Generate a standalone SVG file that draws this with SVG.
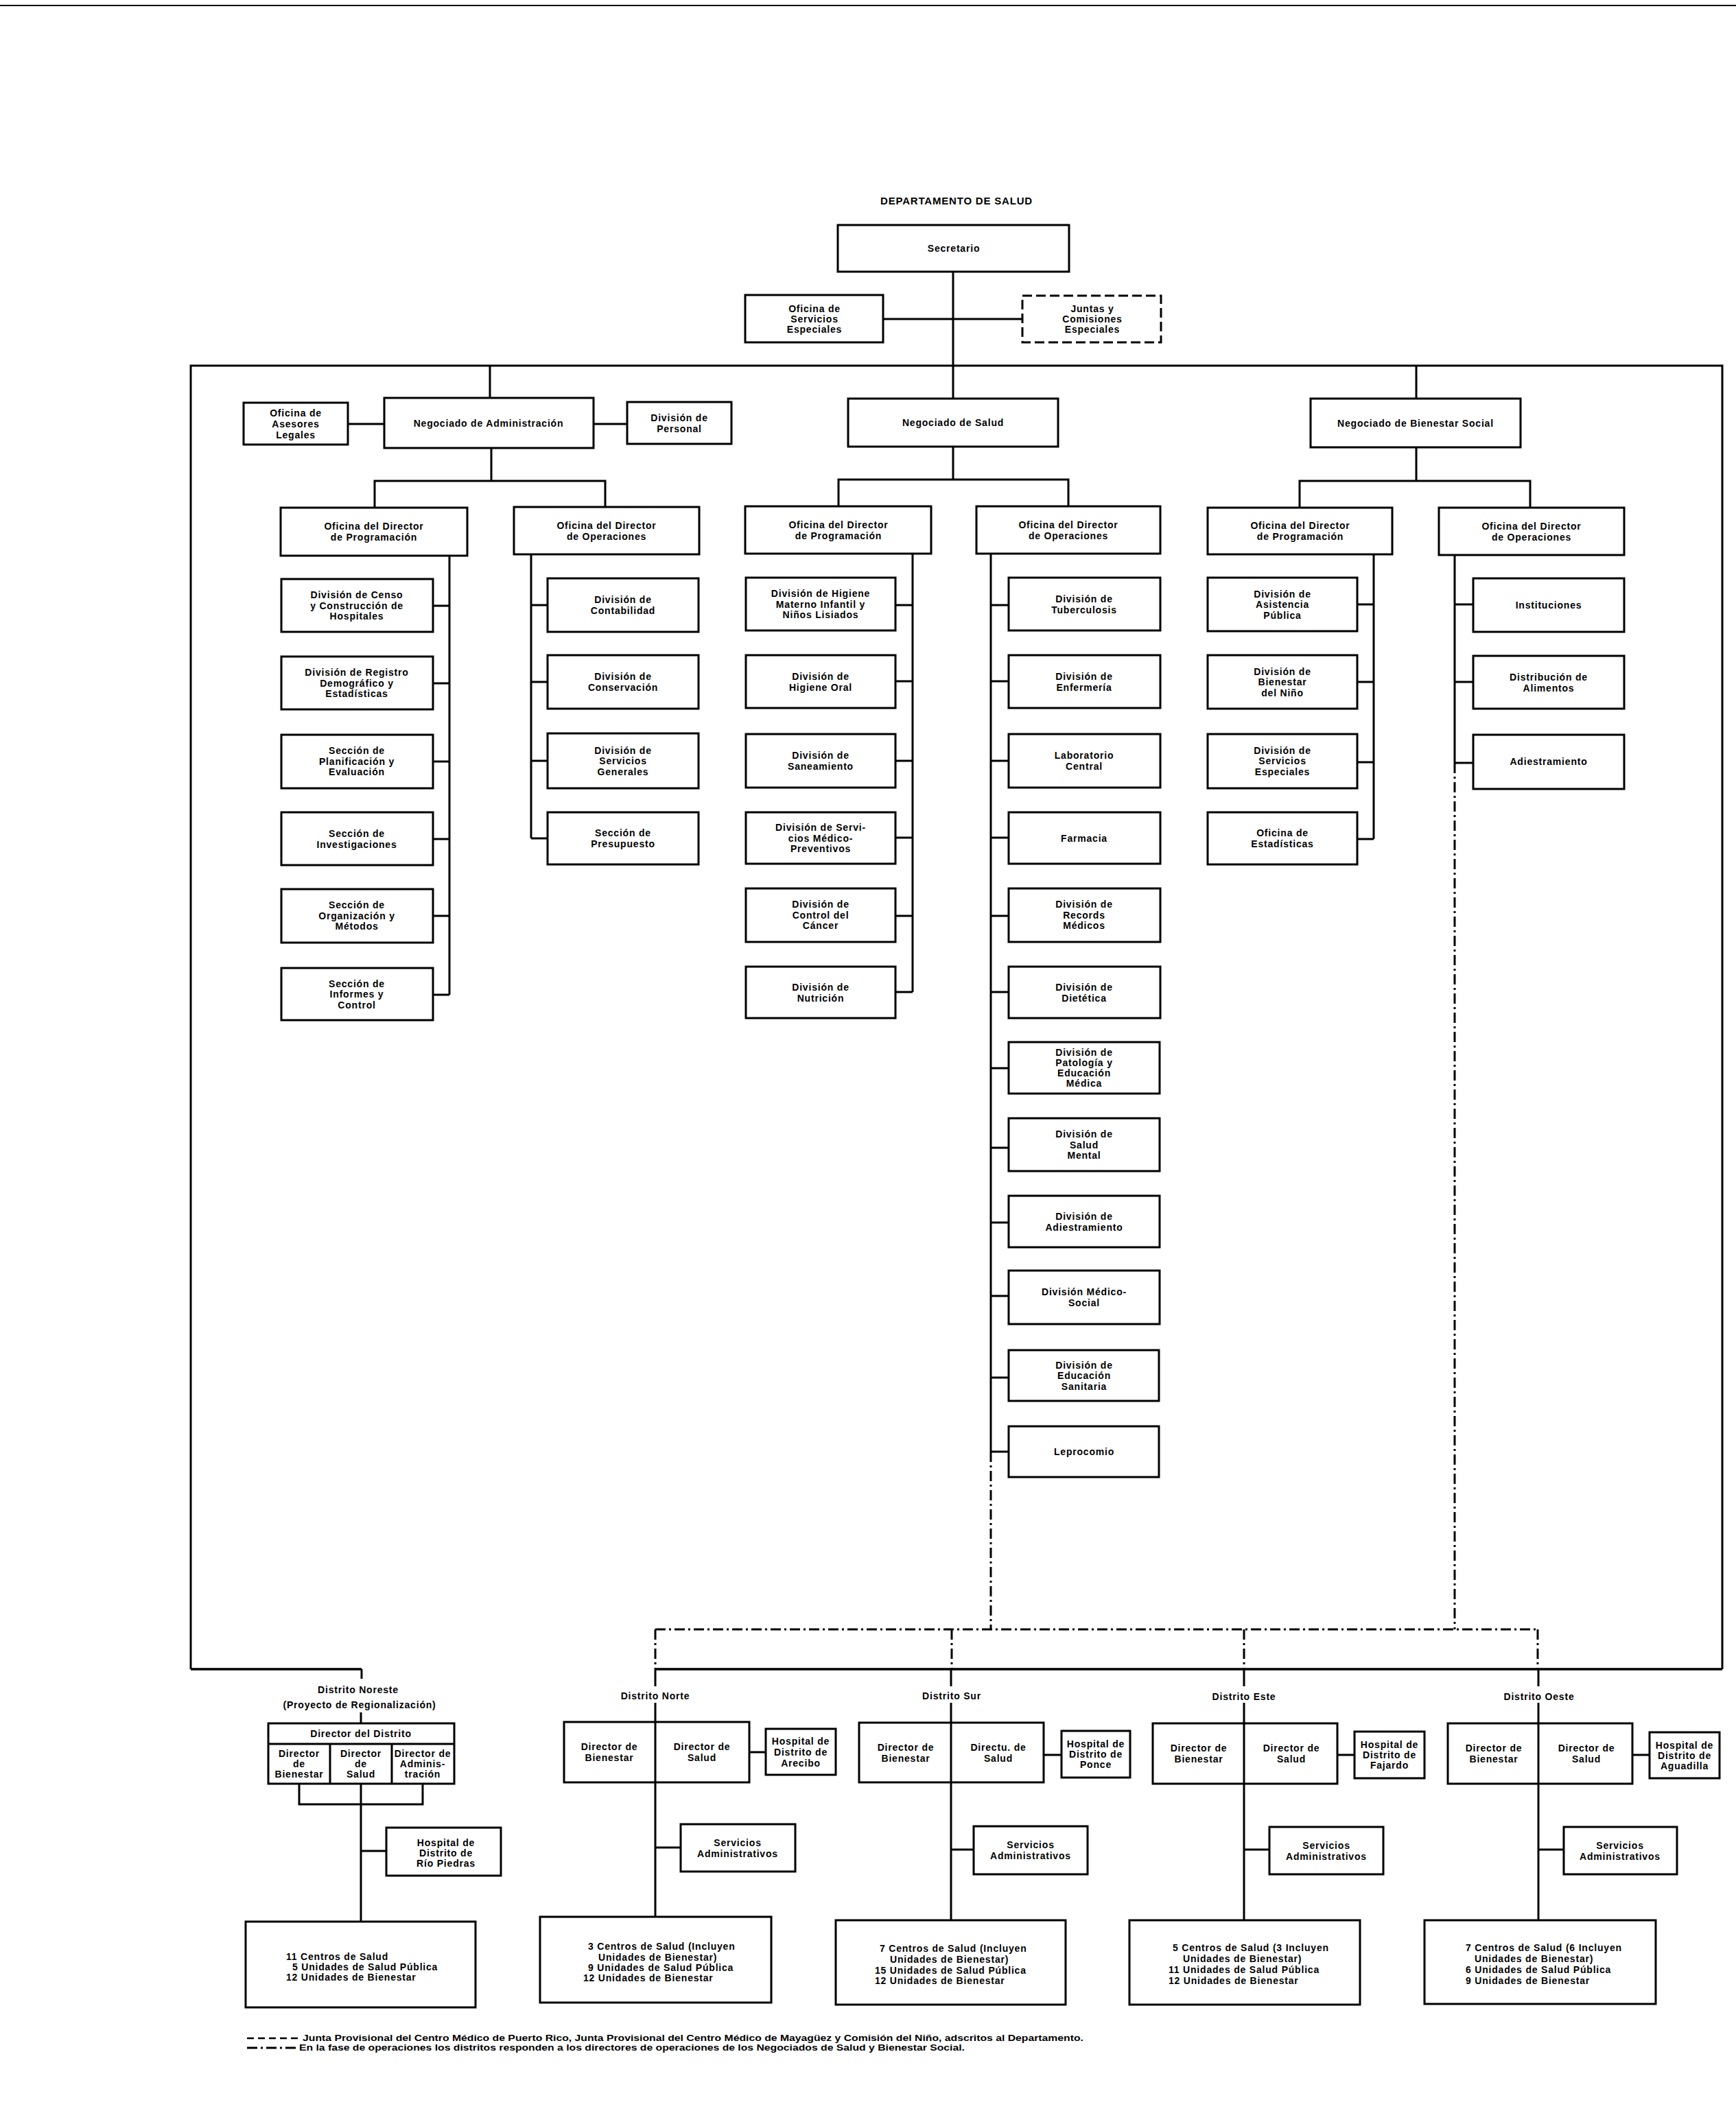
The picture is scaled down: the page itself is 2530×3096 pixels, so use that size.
<svg xmlns="http://www.w3.org/2000/svg" width="2530" height="3096" viewBox="0 0 2530 3096">
<style>
.b{fill:#fff;stroke:#000;stroke-width:3}
.bd{fill:#fff;stroke:#000;stroke-width:3;stroke-dasharray:14 6}
.c{fill:none;stroke:#000;stroke-width:3}
.cw{fill:none;stroke:#000;stroke-width:3.5}
.dd{fill:none;stroke:#000;stroke-width:3;stroke-dasharray:15 5 3 5}
.ds{fill:none;stroke:#000;stroke-width:2.5;stroke-dasharray:10 6}
text{font-family:"Liberation Sans",Arial,Helvetica,sans-serif;font-weight:bold;font-size:14px;letter-spacing:0.8px;text-anchor:middle;fill:#000}
.s{text-anchor:start}
.fn{font-size:12px;letter-spacing:0;text-anchor:start}
.ti{font-size:15px}
</style>
<rect x="0" y="0" width="2530" height="3096" fill="#fff"/>
<line x1="0" y1="8" x2="2530" y2="8" stroke="#000" stroke-width="2"/>
<text class="ti" x="1394" y="298">DEPARTAMENTO DE SALUD</text>

<g id="connectors">
<line class="c" x1="1389" y1="396" x2="1389" y2="581"/>
<line class="c" x1="1287" y1="465" x2="1490" y2="465"/>
<path class="c" d="M278 2433 V533 H2510 V2433"/>
<line class="cw" x1="278" y1="2433" x2="527" y2="2433"/>
<line class="cw" x1="954" y1="2433" x2="2510" y2="2433"/>
<line class="c" x1="714" y1="533" x2="714" y2="580"/>
<line class="c" x1="2064" y1="533" x2="2064" y2="581"/>
<line class="c" x1="507" y1="618" x2="560" y2="618"/>
<line class="c" x1="865" y1="618" x2="914" y2="618"/>
<path class="c" d="M716 653 V701 M546 740 V701 H882 V739"/>
<path class="c" d="M655 810 V1450 M631 883 H655 M631 996 H655 M631 1110 H655 M631 1223 H655 M631 1335 H655 M631 1450 H655"/>
<path class="c" d="M774 808 V1222 M774 882 H798 M774 994 H798 M774 1109 H798 M774 1222 H798"/>
<path class="c" d="M1389 651 V699 M1222 738 V699 H1557 V738"/>
<path class="c" d="M1330 807 V1446 M1305 882 H1330 M1305 993 H1330 M1305 1109 H1330 M1305 1221 H1330 M1305 1335 H1330 M1305 1446 H1330"/>
<path class="c" d="M1444 807 V2116 M1444 882 H1470 M1444 993 H1470 M1444 1109 H1470 M1444 1221 H1470 M1444 1335 H1470 M1444 1446 H1470 M1444 1557 H1470 M1444 1673 H1470 M1444 1782 H1470 M1444 1889 H1470 M1444 2008 H1470 M1444 2116 H1470"/>
<path class="c" d="M2064 652 V701 M1894 740 V701 H2230 V740"/>
<path class="c" d="M2002 808 V1223 M1978 881 H2002 M1978 994 H2002 M1978 1111 H2002 M1978 1223 H2002"/>
<path class="c" d="M2120 809 V1112 M2120 881 H2147 M2120 994 H2147 M2120 1112 H2147"/>
<line class="dd" x1="1444" y1="2116" x2="1444" y2="2375"/>
<line class="dd" x1="2120" y1="1112" x2="2120" y2="2375"/>
<line class="dd" x1="955" y1="2375" x2="2241" y2="2375"/>
<line class="dd" x1="955" y1="2375" x2="955" y2="2433"/>
<line class="dd" x1="1387" y1="2375" x2="1387" y2="2433"/>
<line class="dd" x1="1813" y1="2375" x2="1813" y2="2433"/>
<line class="dd" x1="2241" y1="2375" x2="2241" y2="2433"/>
<path class="c" d="M527 2433 V2447 M526 2496 V2512"/>
<path class="c" d="M436 2600 V2630 H616 V2600 M526 2600 V2801 M526 2698 H563"/>
<path class="c" d="M955 2433 V2458 M955 2482 V2794 M1092 2554 H1116 M955 2693 H992"/>
<path class="c" d="M1386 2433 V2458 M1386 2482 V2799 M1521 2558 H1547 M1386 2696 H1419"/>
<path class="c" d="M1813 2433 V2458 M1813 2482 V2799 M1949 2558 H1974 M1813 2696 H1850"/>
<path class="c" d="M2242 2433 V2458 M2242 2482 V2799 M2379 2558 H2404 M2242 2696 H2279"/>
</g>

<g id="n-secretario"><rect class="b" x="1221" y="328" width="337" height="68"/><text x="1390" y="367">Secretario</text></g>
<g id="n-oficina-servicios-especiales"><rect class="b" x="1086" y="430" width="201" height="69"/><text><tspan x="1187" y="454.5">Oficina de</tspan><tspan x="1187" y="469.5">Servicios</tspan><tspan x="1187" y="484.5">Especiales</tspan></text></g>
<g id="n-juntas"><rect class="bd" x="1490" y="431" width="202" height="68"/><text><tspan x="1592" y="455">Juntas y</tspan><tspan x="1592" y="470">Comisiones</tspan><tspan x="1592" y="485">Especiales</tspan></text></g>

<g id="n-neg-admin"><rect class="b" x="560" y="580" width="305" height="73"/><text x="712" y="621.5">Negociado de Administración</text></g>
<g id="n-asesores"><rect class="b" x="355" y="587" width="152" height="61"/><text><tspan x="431" y="606.5">Oficina de</tspan><tspan x="431" y="622.5">Asesores</tspan><tspan x="431" y="638.5">Legales</tspan></text></g>
<g id="n-personal"><rect class="b" x="914" y="586" width="152" height="61"/><text><tspan x="990" y="613.5">División de</tspan><tspan x="990" y="629.5">Personal</tspan></text></g>
<g id="n-admin-prog"><rect class="b" x="409" y="740" width="272" height="70"/><text><tspan x="545" y="772">Oficina del Director</tspan><tspan x="545" y="788">de Programación</tspan></text></g>
<g id="n-admin-ops"><rect class="b" x="749" y="739" width="270" height="69"/><text><tspan x="884" y="770.5">Oficina del Director</tspan><tspan x="884" y="786.5">de Operaciones</tspan></text></g>

<g id="n-censo"><rect class="b" x="410" y="844" width="221" height="77"/><text><tspan x="520" y="872">División de Censo</tspan><tspan x="520" y="887.5">y Construcción de</tspan><tspan x="520" y="903">Hospitales</tspan></text></g>
<g id="n-registro"><rect class="b" x="410" y="957" width="221" height="77"/><text><tspan x="520" y="985">División de Registro</tspan><tspan x="520" y="1000.5">Demográfico y</tspan><tspan x="520" y="1016">Estadísticas</tspan></text></g>
<g id="n-planificacion"><rect class="b" x="410" y="1071" width="221" height="78"/><text><tspan x="520" y="1099">Sección de</tspan><tspan x="520" y="1114.5">Planificación y</tspan><tspan x="520" y="1130">Evaluación</tspan></text></g>
<g id="n-investigaciones"><rect class="b" x="410" y="1184" width="221" height="77"/><text><tspan x="520" y="1219.5">Sección de</tspan><tspan x="520" y="1235.5">Investigaciones</tspan></text></g>
<g id="n-organizacion"><rect class="b" x="410" y="1296" width="221" height="78"/><text><tspan x="520" y="1324">Sección de</tspan><tspan x="520" y="1339.5">Organización y</tspan><tspan x="520" y="1355">Métodos</tspan></text></g>
<g id="n-informes"><rect class="b" x="410" y="1411" width="221" height="76"/><text><tspan x="520" y="1438.5">Sección de</tspan><tspan x="520" y="1454">Informes y</tspan><tspan x="520" y="1469.5">Control</tspan></text></g>

<g id="n-contabilidad"><rect class="b" x="798" y="843" width="220" height="78"/><text><tspan x="908" y="879">División de</tspan><tspan x="908" y="895">Contabilidad</tspan></text></g>
<g id="n-conservacion"><rect class="b" x="798" y="955" width="220" height="78"/><text><tspan x="908" y="991">División de</tspan><tspan x="908" y="1007">Conservación</tspan></text></g>
<g id="n-servicios-generales"><rect class="b" x="798" y="1069" width="220" height="80"/><text><tspan x="908" y="1098.5">División de</tspan><tspan x="908" y="1114">Servicios</tspan><tspan x="908" y="1129.5">Generales</tspan></text></g>
<g id="n-presupuesto"><rect class="b" x="798" y="1184" width="220" height="76"/><text><tspan x="908" y="1219">Sección de</tspan><tspan x="908" y="1235">Presupuesto</tspan></text></g>

<g id="n-neg-salud"><rect class="b" x="1236" y="581" width="306" height="70"/><text x="1389" y="621">Negociado de Salud</text></g>
<g id="n-salud-prog"><rect class="b" x="1086" y="738" width="271" height="69"/><text><tspan x="1222" y="769.5">Oficina del Director</tspan><tspan x="1222" y="785.5">de Programación</tspan></text></g>
<g id="n-salud-ops"><rect class="b" x="1423" y="738" width="268" height="69"/><text><tspan x="1557" y="769.5">Oficina del Director</tspan><tspan x="1557" y="785.5">de Operaciones</tspan></text></g>

<g id="n-higiene-materno"><rect class="b" x="1087" y="842" width="218" height="77"/><text><tspan x="1196" y="870">División de Higiene</tspan><tspan x="1196" y="885.5">Materno Infantil y</tspan><tspan x="1196" y="901">Niños Lisiados</tspan></text></g>
<g id="n-higiene-oral"><rect class="b" x="1087" y="955" width="218" height="77"/><text><tspan x="1196" y="990.5">División de</tspan><tspan x="1196" y="1006.5">Higiene Oral</tspan></text></g>
<g id="n-saneamiento"><rect class="b" x="1087" y="1070" width="218" height="78"/><text><tspan x="1196" y="1105.5">División de</tspan><tspan x="1196" y="1121.5">Saneamiento</tspan></text></g>
<g id="n-medico-preventivos"><rect class="b" x="1087" y="1184" width="218" height="75"/><text><tspan x="1196" y="1211">División de Servi-</tspan><tspan x="1196" y="1226.5">cios Médico-</tspan><tspan x="1196" y="1242">Preventivos</tspan></text></g>
<g id="n-cancer"><rect class="b" x="1087" y="1295" width="218" height="78"/><text><tspan x="1196" y="1323">División de</tspan><tspan x="1196" y="1338.5">Control del</tspan><tspan x="1196" y="1354">Cáncer</tspan></text></g>
<g id="n-nutricion"><rect class="b" x="1087" y="1409" width="218" height="75"/><text><tspan x="1196" y="1443.5">División de</tspan><tspan x="1196" y="1459.5">Nutrición</tspan></text></g>

<g id="n-tuberculosis"><rect class="b" x="1470" y="842" width="221" height="77"/><text><tspan x="1580" y="877.5">División de</tspan><tspan x="1580" y="893.5">Tuberculosis</tspan></text></g>
<g id="n-enfermeria"><rect class="b" x="1470" y="955" width="221" height="77"/><text><tspan x="1580" y="990.5">División de</tspan><tspan x="1580" y="1006.5">Enfermería</tspan></text></g>
<g id="n-laboratorio"><rect class="b" x="1470" y="1070" width="221" height="78"/><text><tspan x="1580" y="1105.5">Laboratorio</tspan><tspan x="1580" y="1121.5">Central</tspan></text></g>
<g id="n-farmacia"><rect class="b" x="1470" y="1184" width="221" height="75"/><text x="1580" y="1226.5">Farmacia</text></g>
<g id="n-records"><rect class="b" x="1470" y="1295" width="221" height="78"/><text><tspan x="1580" y="1323">División de</tspan><tspan x="1580" y="1338.5">Records</tspan><tspan x="1580" y="1354">Médicos</tspan></text></g>
<g id="n-dietetica"><rect class="b" x="1470" y="1409" width="221" height="75"/><text><tspan x="1580" y="1443.5">División de</tspan><tspan x="1580" y="1459.5">Dietética</tspan></text></g>
<g id="n-patologia"><rect class="b" x="1470" y="1519" width="220" height="75"/><text><tspan x="1580" y="1539">División de</tspan><tspan x="1580" y="1554">Patología y</tspan><tspan x="1580" y="1569">Educación</tspan><tspan x="1580" y="1584">Médica</tspan></text></g>
<g id="n-salud-mental"><rect class="b" x="1470" y="1630" width="220" height="77"/><text><tspan x="1580" y="1658">División de</tspan><tspan x="1580" y="1673.5">Salud</tspan><tspan x="1580" y="1689">Mental</tspan></text></g>
<g id="n-adiestramiento-salud"><rect class="b" x="1470" y="1743" width="220" height="75"/><text><tspan x="1580" y="1777.5">División de</tspan><tspan x="1580" y="1793.5">Adiestramiento</tspan></text></g>
<g id="n-medico-social"><rect class="b" x="1470" y="1852" width="220" height="78"/><text><tspan x="1580" y="1888">División Médico-</tspan><tspan x="1580" y="1904">Social</tspan></text></g>
<g id="n-educacion-sanitaria"><rect class="b" x="1470" y="1968" width="219" height="74"/><text><tspan x="1580" y="1994.5">División de</tspan><tspan x="1580" y="2010">Educación</tspan><tspan x="1580" y="2025.5">Sanitaria</tspan></text></g>
<g id="n-leprocomio"><rect class="b" x="1470" y="2079" width="219" height="74"/><text x="1580" y="2121">Leprocomio</text></g>

<g id="n-neg-bienestar"><rect class="b" x="1910" y="581" width="306" height="71"/><text x="2063" y="621.5">Negociado de Bienestar Social</text></g>
<g id="n-bien-prog"><rect class="b" x="1760" y="740" width="269" height="68"/><text><tspan x="1895" y="771">Oficina del Director</tspan><tspan x="1895" y="787">de Programación</tspan></text></g>
<g id="n-bien-ops"><rect class="b" x="2097" y="740" width="270" height="69"/><text><tspan x="2232" y="771.5">Oficina del Director</tspan><tspan x="2232" y="787.5">de Operaciones</tspan></text></g>

<g id="n-asistencia"><rect class="b" x="1760" y="842" width="218" height="78"/><text><tspan x="1869" y="870.5">División de</tspan><tspan x="1869" y="886">Asistencia</tspan><tspan x="1869" y="901.5">Pública</tspan></text></g>
<g id="n-bienestar-nino"><rect class="b" x="1760" y="955" width="218" height="78"/><text><tspan x="1869" y="983.5">División de</tspan><tspan x="1869" y="999">Bienestar</tspan><tspan x="1869" y="1014.5">del Niño</tspan></text></g>
<g id="n-servicios-especiales"><rect class="b" x="1760" y="1070" width="218" height="79"/><text><tspan x="1869" y="1098.5">División de</tspan><tspan x="1869" y="1114">Servicios</tspan><tspan x="1869" y="1129.5">Especiales</tspan></text></g>
<g id="n-estadisticas"><rect class="b" x="1760" y="1184" width="218" height="76"/><text><tspan x="1869" y="1219">Oficina de</tspan><tspan x="1869" y="1235">Estadísticas</tspan></text></g>

<g id="n-instituciones"><rect class="b" x="2147" y="843" width="220" height="78"/><text x="2257" y="887">Instituciones</text></g>
<g id="n-alimentos"><rect class="b" x="2147" y="956" width="220" height="77"/><text><tspan x="2257" y="992">Distribución de</tspan><tspan x="2257" y="1008">Alimentos</tspan></text></g>
<g id="n-adiestramiento-bien"><rect class="b" x="2147" y="1071" width="220" height="79"/><text x="2257" y="1115">Adiestramiento</text></g>

<g id="n-distrito-noreste">
<text><tspan x="522" y="2468">Distrito Noreste</tspan><tspan x="524" y="2490">(Proyecto de Regionalización)</tspan></text>
<rect class="b" x="391" y="2512" width="271" height="88"/>
<path class="c" d="M391 2542 H662 M481 2542 V2600 M571 2542 V2600"/>
<text x="526" y="2532">Director del Distrito</text>
<text><tspan x="436" y="2561">Director</tspan><tspan x="436" y="2576">de</tspan><tspan x="436" y="2591">Bienestar</tspan></text>
<text><tspan x="526" y="2561">Director</tspan><tspan x="526" y="2576">de</tspan><tspan x="526" y="2591">Salud</tspan></text>
<text><tspan x="616" y="2561">Director de</tspan><tspan x="616" y="2576">Adminis-</tspan><tspan x="616" y="2591">tración</tspan></text>
</g>
<g id="n-hospital-rio-piedras"><rect class="b" x="563" y="2664" width="167" height="70"/><text><tspan x="650" y="2691">Hospital de</tspan><tspan x="650" y="2706">Distrito de</tspan><tspan x="650" y="2721">Río Piedras</tspan></text></g>
<g id="n-centros-noreste"><rect class="b" x="358" y="2801" width="335" height="125"/><text class="s"><tspan x="417" y="2857">11 Centros de Salud</tspan><tspan x="426" y="2872">5 Unidades de Salud Pública</tspan><tspan x="417" y="2887">12 Unidades de Bienestar</tspan></text></g>

<g id="n-distrito-norte">
<text x="955" y="2477">Distrito Norte</text>
<rect class="b" x="822" y="2510" width="270" height="88"/>
<line class="c" x1="955" y1="2510" x2="955" y2="2598"/>
<text><tspan x="888" y="2551">Director de</tspan><tspan x="888" y="2567">Bienestar</tspan></text>
<text><tspan x="1023" y="2551">Director de</tspan><tspan x="1023" y="2567">Salud</tspan></text>
</g>
<g id="n-hospital-arecibo"><rect class="b" x="1116" y="2520" width="102" height="67"/><text><tspan x="1167" y="2542.5">Hospital de</tspan><tspan x="1167" y="2558.5">Distrito de</tspan><tspan x="1167" y="2574.5">Arecibo</tspan></text></g>
<g id="n-serv-admin-norte"><rect class="b" x="992" y="2659" width="167" height="69"/><text><tspan x="1075" y="2690.5">Servicios</tspan><tspan x="1075" y="2706.5">Administrativos</tspan></text></g>
<g id="n-centros-norte"><rect class="b" x="787" y="2794" width="337" height="125"/><text class="s"><tspan x="857" y="2842">3 Centros de Salud (Incluyen</tspan><tspan x="872" y="2858">Unidades de Bienestar)</tspan><tspan x="857" y="2873">9 Unidades de Salud Pública</tspan><tspan x="850" y="2888">12 Unidades de Bienestar</tspan></text></g>

<g id="n-distrito-sur">
<text x="1387" y="2477">Distrito Sur</text>
<rect class="b" x="1252" y="2511" width="269" height="87"/>
<line class="c" x1="1386" y1="2511" x2="1386" y2="2598"/>
<text><tspan x="1320" y="2551.5">Director de</tspan><tspan x="1320" y="2567.5">Bienestar</tspan></text>
<text><tspan x="1455" y="2551.5">Directu. de</tspan><tspan x="1455" y="2567.5">Salud</tspan></text>
</g>
<g id="n-hospital-ponce"><rect class="b" x="1547" y="2523" width="100" height="68"/><text><tspan x="1597" y="2547">Hospital de</tspan><tspan x="1597" y="2562">Distrito de</tspan><tspan x="1597" y="2577">Ponce</tspan></text></g>
<g id="n-serv-admin-sur"><rect class="b" x="1419" y="2662" width="166" height="70"/><text><tspan x="1502" y="2694">Servicios</tspan><tspan x="1502" y="2710">Administrativos</tspan></text></g>
<g id="n-centros-sur"><rect class="b" x="1218" y="2799" width="335" height="123"/><text class="s"><tspan x="1282" y="2845">7 Centros de Salud (Incluyen</tspan><tspan x="1297" y="2861">Unidades de Bienestar)</tspan><tspan x="1275" y="2877">15 Unidades de Salud Pública</tspan><tspan x="1275" y="2892">12 Unidades de Bienestar</tspan></text></g>

<g id="n-distrito-este">
<text x="1813" y="2478">Distrito Este</text>
<rect class="b" x="1680" y="2512" width="269" height="88"/>
<line class="c" x1="1813" y1="2512" x2="1813" y2="2600"/>
<text><tspan x="1747" y="2553">Director de</tspan><tspan x="1747" y="2569">Bienestar</tspan></text>
<text><tspan x="1882" y="2553">Director de</tspan><tspan x="1882" y="2569">Salud</tspan></text>
</g>
<g id="n-hospital-fajardo"><rect class="b" x="1974" y="2524" width="102" height="68"/><text><tspan x="2025" y="2548">Hospital de</tspan><tspan x="2025" y="2563">Distrito de</tspan><tspan x="2025" y="2578">Fajardo</tspan></text></g>
<g id="n-serv-admin-este"><rect class="b" x="1850" y="2663" width="166" height="69"/><text><tspan x="1933" y="2694.5">Servicios</tspan><tspan x="1933" y="2710.5">Administrativos</tspan></text></g>
<g id="n-centros-este"><rect class="b" x="1646" y="2799" width="336" height="123"/><text class="s"><tspan x="1709" y="2844">5 Centros de Salud (3 Incluyen</tspan><tspan x="1724" y="2860">Unidades de Bienestar)</tspan><tspan x="1703" y="2876">11 Unidades de Salud Pública</tspan><tspan x="1703" y="2892">12 Unidades de Bienestar</tspan></text></g>

<g id="n-distrito-oeste">
<text x="2243" y="2478">Distrito Oeste</text>
<rect class="b" x="2110" y="2512" width="269" height="88"/>
<line class="c" x1="2242" y1="2512" x2="2242" y2="2600"/>
<text><tspan x="2177" y="2553">Director de</tspan><tspan x="2177" y="2569">Bienestar</tspan></text>
<text><tspan x="2312" y="2553">Director de</tspan><tspan x="2312" y="2569">Salud</tspan></text>
</g>
<g id="n-hospital-aguadilla"><rect class="b" x="2404" y="2525" width="102" height="67"/><text><tspan x="2455" y="2548.5">Hospital de</tspan><tspan x="2455" y="2563.5">Distrito de</tspan><tspan x="2455" y="2578.5">Aguadilla</tspan></text></g>
<g id="n-serv-admin-oeste"><rect class="b" x="2279" y="2663" width="165" height="69"/><text><tspan x="2361" y="2694.5">Servicios</tspan><tspan x="2361" y="2710.5">Administrativos</tspan></text></g>
<g id="n-centros-oeste"><rect class="b" x="2076" y="2799" width="337" height="122"/><text class="s"><tspan x="2136" y="2844">7 Centros de Salud (6 Incluyen</tspan><tspan x="2149" y="2860">Unidades de Bienestar)</tspan><tspan x="2136" y="2876">6 Unidades de Salud Pública</tspan><tspan x="2136" y="2892">9 Unidades de Bienestar</tspan></text></g>

<g id="legend">
<line class="ds" x1="360" y1="2971" x2="438" y2="2971"/>
<text class="fn" x="441" y="2975" textLength="1138" lengthAdjust="spacingAndGlyphs">Junta Provisional del Centro Médico de Puerto Rico, Junta Provisional del Centro Médico de Mayagüez y Comisión del Niño, adscritos al Departamento.</text>
<line class="dd" x1="360" y1="2985" x2="433" y2="2985" stroke-width="2.5"/>
<text class="fn" x="436" y="2989" textLength="970" lengthAdjust="spacingAndGlyphs">En la fase de operaciones los distritos responden a los directores de operaciones de los Negociados de Salud y Bienestar Social.</text>
</g>
</svg>
